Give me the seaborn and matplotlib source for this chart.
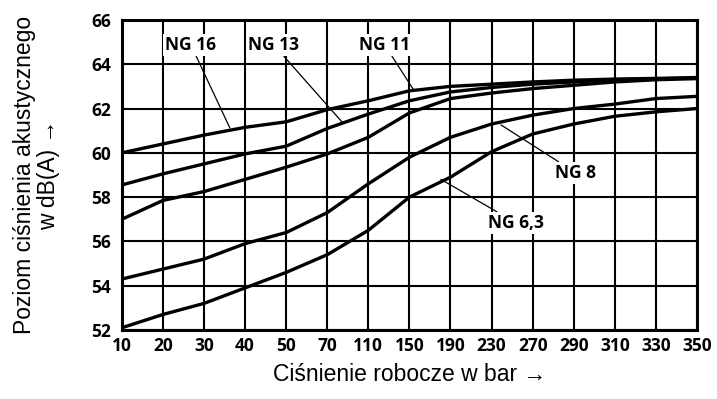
import matplotlib
matplotlib.use("Agg")
import matplotlib.pyplot as plt
import seaborn as sns
import pandas as pd
import numpy as np

pressure_labels = ["10", "20", "30", "40", "50", "70", "110", "150", "190",
                   "230", "270", "290", "310", "330", "350"]
ng16 = [60.0, 60.4, 60.8, 61.15, 61.4, 61.95, 62.35, 62.8, 63.0, 63.1, 63.2, 63.28, 63.33, 63.36, 63.4]
ng13 = [58.55, 59.05, 59.5, 59.95, 60.3, 61.1, 61.75, 62.35, 62.75, 62.95, 63.1, 63.2, 63.3, 63.34, 63.38]
ng11 = [57.0, 57.85, 58.25, 58.8, 59.35, 59.95, 60.7, 61.8, 62.45, 62.7, 62.9, 63.05, 63.2, 63.3, 63.35]
ng8 = [54.3, 54.75, 55.2, 55.9, 56.4, 57.3, 58.6, 59.8, 60.7, 61.3, 61.7, 62.0, 62.2, 62.45, 62.55]
ng63 = [52.1, 52.7, 53.2, 53.9, 54.6, 55.4, 56.5, 58.0, 58.9, 60.05, 60.85, 61.3, 61.65, 61.85, 62.0]

series = {"NG 16": ng16, "NG 13": ng13, "NG 11": ng11, "NG 8": ng8, "NG 6,3": ng63}
rows = []
for name, vals in series.items():
    for i, v in enumerate(vals):
        rows.append({"pos": i, "level": v, "series": name})
df = pd.DataFrame(rows)

sns.set_theme(style="white")
plt.rcParams["font.family"] = ["Liberation Sans", "DejaVu Sans"]
plt.rcParams["text.color"] = "black"
plt.rcParams["axes.labelcolor"] = "black"
plt.rcParams["xtick.color"] = "black"
plt.rcParams["ytick.color"] = "black"

fig = plt.figure(figsize=(7.17, 3.99), dpi=100)
ax = fig.add_axes([0.170, 0.173, 0.802, 0.777])

sns.lineplot(data=df, x="pos", y="level", hue="series",
             palette=["black"] * 5, linewidth=2.4, legend=False, ax=ax,
             zorder=3)

ax.set_xlim(0, len(pressure_labels) - 1)
ax.set_ylim(52, 66)
ax.set_xticks(range(len(pressure_labels)))
ax.set_xticklabels(pressure_labels)
ax.set_yticks(range(52, 67, 2))
for lab in ax.get_xticklabels() + ax.get_yticklabels():
    lab.set_fontfamily(["Open Sans", "DejaVu Sans"])
    lab.set_fontweight("bold")
    lab.set_fontsize(12.5)
    lab.set_color("black")
ax.tick_params(axis="x", length=0, pad=5)
ax.tick_params(axis="y", length=0, pad=8)
ax.grid(True, color="black", linewidth=1.5)
ax.set_axisbelow(True)
for sp in ax.spines.values():
    sp.set_color("black")
    sp.set_linewidth(2.2)

ax.set_xlabel("Ciśnienie robocze w bar →", fontsize=16.5, labelpad=6,
              color="black")
ax.set_ylabel("Poziom ciśnienia akustycznego\nw dB(A) →", fontsize=16.5,
              labelpad=22, color="black", linespacing=1.1)

ann_kw = dict(fontfamily=["Open Sans", "DejaVu Sans"], fontweight="bold",
              fontsize=12.5, ha="center", va="center", color="black",
              bbox=dict(facecolor="white", edgecolor="none", pad=1.5),
              arrowprops=dict(arrowstyle="-", color="black", lw=0.9,
                              shrinkA=0, shrinkB=0), zorder=5)
ax.annotate("NG 16", xy=(2.63, 61.12), xytext=(1.68, 64.87), **ann_kw)
ax.annotate("NG 13", xy=(5.38, 61.35), xytext=(3.7, 64.87), **ann_kw)
ax.annotate("NG 11", xy=(7.1, 62.85), xytext=(6.4, 64.87), **ann_kw)
ax.annotate("NG 8", xy=(9.23, 61.26), xytext=(11.05, 59.1), **ann_kw)
ax.annotate("NG 6,3", xy=(7.77, 58.8), xytext=(9.6, 56.83), **ann_kw)

fig.savefig("out.png", dpi=100)
